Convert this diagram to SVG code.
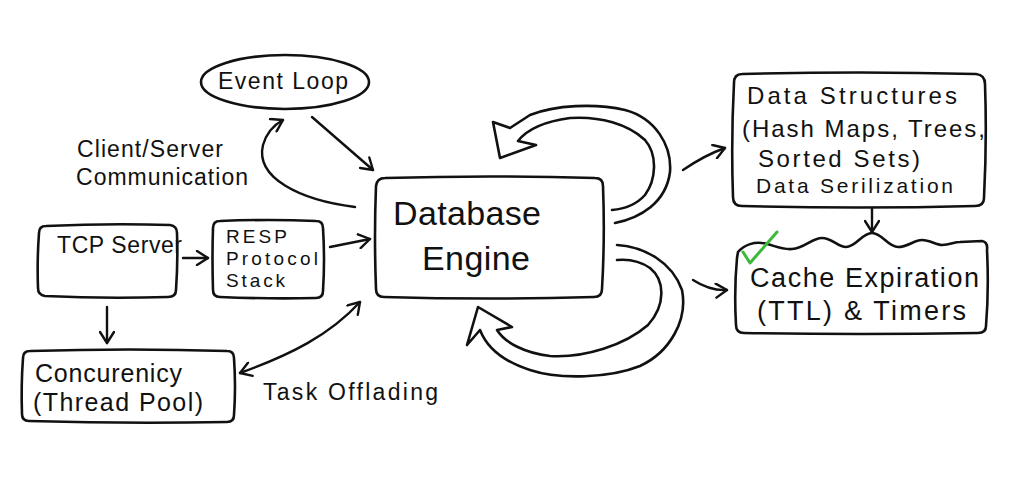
<svg xmlns="http://www.w3.org/2000/svg" width="1024" height="490" viewBox="0 0 1024 490">
<style>
.n{fill:#fff;stroke:#111;stroke-width:2.6;stroke-linejoin:round;stroke-linecap:round}
.c{fill:none;stroke:#111;stroke-width:2.4;stroke-linecap:round;stroke-linejoin:round}
.b{fill:#fff;stroke:#111;stroke-width:2.6;stroke-linecap:round;stroke-linejoin:round}
text{font-family:"Liberation Sans","Noto Sans",sans-serif;fill:#111}
</style>
<defs>
<marker id="ah" markerUnits="userSpaceOnUse" markerWidth="16" markerHeight="16" refX="13" refY="8" orient="auto-start-reverse">
<path d="M2,1 L13,8 L2,15" fill="none" stroke="#111" stroke-width="2.4" stroke-linecap="round" stroke-linejoin="round"/>
</marker>
</defs>
<rect width="1024" height="490" fill="#fff"/>

<g id="connectors">
<path class="c" d="M312,117 Q342,143 373,170" marker-end="url(#ah)"/>
<path class="c" d="M355,207 C300,200 255,178 263,145 Q268,128 283,120" marker-end="url(#ah)"/>
<path class="c" d="M183,258 L208,258" marker-end="url(#ah)"/>
<path class="c" d="M330,247 L370,239" marker-end="url(#ah)"/>
<path class="c" d="M107,307 L107,343" marker-end="url(#ah)"/>
<path class="c" d="M240,373 C290,355 330,335 360,302" marker-start="url(#ah)" marker-end="url(#ah)"/>
<path class="c" d="M683,170 Q705,155 725,148" marker-end="url(#ah)"/>
<path class="c" d="M693,280 Q710,291 727,290" marker-end="url(#ah)"/>
<path class="c" d="M872,208 L872,232" marker-end="url(#ah)"/>
<path class="b" d="M615,223 C640,218 666,203 670,172 C672,145 655,118 625,110 C595,103 555,105 530,115 L510,128 L493,122 L500,158 L536,145 L518,141 C525,132 540,122 570,118 C600,116 628,124 645,140 C658,155 656,180 645,195 C636,205 625,209 612,210"/>
<path class="b" d="M617,245 C645,247 672,262 682,290 C688,320 670,352 640,366 C610,378 560,380 530,370 C505,362 487,348 480,330 L467,345 L478,307 L512,327 L497,330 C505,343 525,353 550,356 C585,358 625,345 648,325 C666,305 665,280 650,268 C640,261 628,259 617,260"/>
</g>

<g id="event-loop">
<ellipse class="n" cx="285" cy="82" rx="84" ry="27"/>
<text x="218" y="89" font-size="23" textLength="130">Event Loop</text>
</g>

<g id="client-server-label">
<text x="77" y="157" font-size="23" textLength="146">Client/Server</text>
<text x="76" y="185" font-size="23" textLength="172">Communication</text>
</g>

<g id="tcp-server">
<path class="n" d="M46,226 Q110,223 170,225 Q177,226 177,233 Q178,262 176,290 Q176,297 168,297 Q105,299 45,296 Q38,295 38,288 Q37,260 39,233 Q39,226 46,226 Z"/>
<text x="57" y="253" font-size="23" textLength="125">TCP Server</text>
</g>

<g id="resp">
<path class="n" d="M220,221 Q270,219 316,221 Q323,221 323,228 Q325,260 323,291 Q323,298 316,298 Q268,299 220,297 Q213,297 213,290 Q212,258 213,228 Q213,221 220,221 Z"/>
<text x="226" y="243" font-size="19" textLength="61">RESP</text>
<text x="226" y="265" font-size="19" textLength="92">Protocol</text>
<text x="226" y="287" font-size="19" textLength="59">Stack</text>
</g>

<g id="concurrency">
<path class="n" d="M30,351 Q130,348 227,351 Q234,351 234,358 Q236,387 234,415 Q234,422 227,422 Q128,424 29,421 Q22,421 22,414 Q21,385 23,358 Q23,351 30,351 Z"/>
<text x="35" y="382" font-size="25" textLength="147">Concurenicy</text>
<text x="33" y="411" font-size="25" textLength="170">(Thread Pool)</text>
</g>

<g id="task-offloading-label">
<text x="263" y="400" font-size="23" textLength="175">Task Offlading</text>
</g>

<g id="database-engine">
<path class="n" d="M385,178 Q490,175 595,178 Q603,178 603,186 Q605,238 602,289 Q602,297 594,297 Q488,300 384,297 Q376,297 376,289 Q374,236 376,186 Q377,178 385,178 Z"/>
<text x="393" y="225" font-size="34" textLength="148">Database</text>
<text x="422" y="270" font-size="34" textLength="108">Engine</text>
</g>

<g id="data-structures">
<path class="n" d="M742,74 Q860,71 976,74 Q985,75 985,84 Q987,140 984,198 Q984,206 975,206 Q858,209 742,206 Q733,206 733,197 Q731,140 734,83 Q734,74 742,74 Z"/>
<text x="747" y="104" font-size="24" textLength="210">Data Structures</text>
<text x="742" y="137" font-size="24" textLength="243">(Hash Maps, Trees,</text>
<text x="758" y="167" font-size="24" textLength="162">Sorted Sets)</text>
<text x="756" y="193" font-size="21" textLength="197">Data Serilization</text>
</g>

<g id="cache-expiration">
<path class="n" d="M738,252 C745,244 755,242 762,243 C772,244 780,250 792,249 C805,248 812,238 822,238 C832,238 838,247 846,247 C856,247 862,233 872,233 C882,233 888,247 898,247 C908,247 914,240 922,240 C930,240 936,245 942,245 C950,245 954,242 960,242 L982,241 Q988,242 987,250 Q989,290 986,326 Q986,333 978,333 Q860,335 744,333 Q736,333 736,325 Q734,290 737,258 Z"/>
<path d="M743,252 L750,263 L777,232" fill="none" stroke="#3cb83a" stroke-width="3" stroke-linecap="round" stroke-linejoin="round"/>
<text x="750" y="287" font-size="27" textLength="229">Cache Expiration</text>
<text x="757" y="320" font-size="27" textLength="209">(TTL) &amp; Timers</text>
</g>
</svg>
